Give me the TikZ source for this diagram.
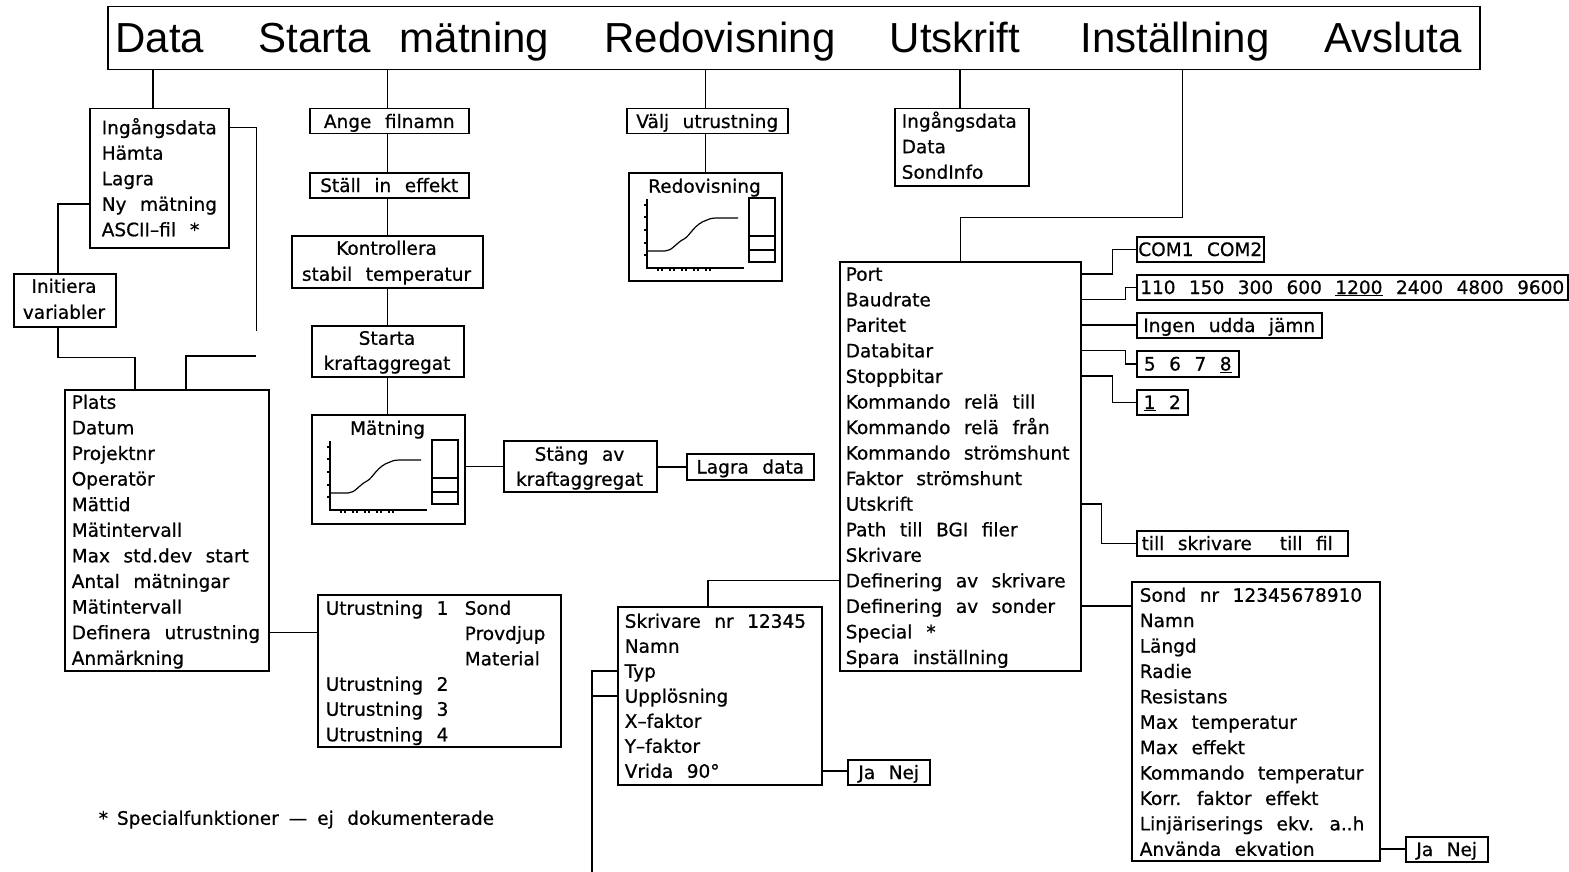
\documentclass[tikz,border=0pt]{standalone}
\usepackage{fontspec}
\setmainfont{DejaVu Sans}[WordSpace=2.3, FakeBold=0.7]
\newfontfamily\barfont{Liberation Sans}[WordSpace=2.5]
\usetikzlibrary{calc}

\tikzset{
  box/.style={draw, rectangle, inner sep=0pt, anchor=north west},
  txt/.style={inner sep=0pt, font=\fontsize{18.5}{22}\selectfont, text height=13.5pt, text depth=0pt},
  itm/.style={txt, anchor=west},
  bartxt/.style={inner sep=0pt, font=\barfont\fontsize{42}{48}\selectfont, text height=30pt, text depth=0pt},
  chart/.pic={
    \begin{scope}[line width=1.2pt]
      \draw (19,27) -- (19,96) -- (116,96);
      \foreach \yy in {33,45,58,71,83} \draw (16,\yy) -- (19,\yy);
      \foreach \xx in {30,34,42,46,54,58,66,70,78,82} \draw (\xx,96) -- (\xx,99);
      \draw (19,79) -- (37,79) .. controls (44,79) and (48,71) .. (56,67)
            .. controls (62,64) and (66,52) .. (79,48)
            .. controls (83,46) and (86,46) .. (92,46) -- (110,46);
      \draw (121,26) rectangle (147,90) (121,64) -- (147,64) (121,78) -- (147,78);
    \end{scope}
  }
}

\begin{document}
\begin{tikzpicture}[x=1pt,y=-1pt,line width=1.5pt]
\fill[white] (0,0) rectangle (1569,872);
\useasboundingbox (0,0) rectangle (1569,872);

% main menu bar
\node[box, minimum width=1372pt, minimum height=63pt] (bar) at (107,6) {};
\node[bartxt] (tb1) at (160,37.5) {Data};
\node[bartxt] (tb2) at (404,37.5) {Starta mätning};
\node[bartxt] (tb3) at (720,37.5) {Redovisning};
\node[bartxt] (tb4) at (955,37.5) {Utskrift};
\node[bartxt] (tb5) at (1175,37.5) {Inställning};
\node[bartxt] (tb6) at (1393,37.5) {Avsluta};

% Data menu
\node[box, minimum width=139pt, minimum height=139pt] (dmenu) at (89,108) {};
\foreach \t [count=\i from 0] in {Ingångsdata, Hämta, Lagra, Ny mätning, ASCII–fil\hspace{14pt}*}
  \node[itm] (dm\i) at (101,{127.5+25.5*\i}) {\t};

\node[box, minimum width=102pt, minimum height=53pt] (init) at (13,273) {};
\node[txt] (in1) at (64,286) {Initiera};
\node[txt] (in2) at (64,312) {variabler};

\node[box, minimum width=204pt, minimum height=281pt] (plats) at (64,389) {};
\foreach \t [count=\i from 0] in {Plats, Datum, Projektnr, Operatör, Mättid, Mätintervall,
    Max std.dev start, Antal mätningar, Mätintervall, Definera utrustning, Anmärkning}
  \node[itm] (pl\i) at (71,{402+25.6*\i}) {\t};

\node[box, minimum width=243pt, minimum height=152pt] (utr) at (317,594) {};
\node[itm] (ut1) at (325,608) {Utrustning 1};
\node[itm] (ut2) at (325,684) {Utrustning 2};
\node[itm] (ut3) at (325,709) {Utrustning 3};
\node[itm] (ut4) at (325,734.5) {Utrustning 4};
\node[itm] (uta) at (464,608) {Sond};
\node[itm] (utb) at (464,633.3) {Provdjup};
\node[itm] (utc) at (464,658.6) {Material};

% measurement chain
\node[box, minimum width=159pt, minimum height=25pt] (ange) at (309,108) {};
\node[txt] (ange-t) at (ange) {Ange filnamn};
\node[box, minimum width=159pt, minimum height=25pt] (stall) at (309,172) {};
\node[txt] (stall-t) at (stall) {Ställ in effekt};
\node[box, minimum width=191pt, minimum height=52pt] (kontr) at (291,235) {};
\node[txt] (ko1) at (386.5,248) {Kontrollera};
\node[txt] (ko2) at (386.5,274) {stabil temperatur};
\node[box, minimum width=152pt, minimum height=51pt] (starta) at (311,325) {};
\node[txt] (st1) at (387,338) {Starta};
\node[txt] (st2) at (387,363) {kraftaggregat};
\node[box, minimum width=153pt, minimum height=109pt] (matn) at (311,414) {};
\node[txt] (matn-t) at (387.5,428) {Mätning};
\pic at (matn.north west) {chart};
\node[box, minimum width=153pt, minimum height=51pt] (stang) at (503,440) {};
\node[txt] (sg1) at (579.5,454) {Stäng av};
\node[txt] (sg2) at (579.5,479) {kraftaggregat};
\node[box, minimum width=127pt, minimum height=26pt] (lagra) at (686,453) {};
\node[txt] (lagra-t) at (lagra) {Lagra data};

% report
\node[box, minimum width=161pt, minimum height=25pt] (valj) at (626,108) {};
\node[txt] (valj-t) at (valj) {Välj utrustning};
\node[box, minimum width=153pt, minimum height=108pt] (redov) at (628,172) {};
\node[txt] (redov-t) at (704.5,186) {Redovisning};
\pic at (redov.north west) {chart};

% print
\node[box, minimum width=134pt, minimum height=77pt] (utsk) at (894,108) {};
\foreach \t [count=\i from 0] in {Ingångsdata, Data, SondInfo}
  \node[itm] (us\i) at (901,{121+25.5*\i}) {\t};

% settings
\node[box, minimum width=241pt, minimum height=409pt] (port) at (839,261) {};
\foreach \t [count=\i from 0] in {Port, Baudrate, Paritet, Databitar, Stoppbitar,
    Kommando relä till, Kommando relä från, Kommando strömshunt, Faktor strömshunt,
    Utskrift, Path till BGI filer, Skrivare, Definering av skrivare,
    Definering av sonder, Special\hspace{14pt}*, Spara inställning}
  \node[itm] (p\i) at (845,{274+25.55*\i}) {\t};

\node[box, minimum width=127pt, minimum height=25pt] (com) at (1136,236) {};
\node[txt] (com-t) at (com) {COM1 COM2};
\node[box, minimum width=431pt, minimum height=25pt] (baud) at (1136,274) {};
\node[txt] (baud-t) at (baud) {110\hspace{13.5pt}150\hspace{13.5pt}300\hspace{13.5pt}600\hspace{13.5pt}\underline{1200}\hspace{13.5pt}2400\hspace{13.5pt}4800\hspace{13.5pt}9600};
\node[box, minimum width=185pt, minimum height=25pt] (par) at (1136,312) {};
\node[txt] (par-t) at (par) {\underline{Ingen} udda jämn};
\node[box, minimum width=102pt, minimum height=26pt] (dbit) at (1136,350) {};
\node[txt] (dbit-t) at (dbit) {5 6 7 \underline{8}};
\node[box, minimum width=51pt, minimum height=25pt] (sbit) at (1136,389) {};
\node[txt] (sbit-t) at (sbit) {\underline{1} 2};
\node[box, minimum width=211pt, minimum height=25pt] (utopt) at (1136,530) {};
\node[txt] (utopt-t) at ($(utopt)+(-5,0)$) {till skrivare\hspace{28pt}till fil};

\node[box, minimum width=248pt, minimum height=279pt] (sond) at (1131,581) {};
\foreach \t [count=\i from 0] in {Sond nr 12345678910, Namn, Längd, Radie, Resistans,
    Max temperatur, Max effekt, Kommando temperatur, Korr. faktor effekt,
    Linjäriserings ekv. a..h, Använda ekvation}
  \node[itm] (q\i) at (1139,{595+25.4*\i}) {\t};
\node[box, minimum width=82pt, minimum height=25pt] (jn2) at (1405,836) {};
\node[txt] (jn2-t) at (jn2) {Ja Nej};

\node[box, minimum width=204pt, minimum height=178pt] (skriv) at (617,606) {};
\foreach \t [count=\i from 0] in {Skrivare nr 12345, Namn, Typ, Upplösning,
    X–faktor, Y–faktor, Vrida 90°}
  \node[itm] (s\i) at (624,{621+25*\i}) {\t};
\node[box, minimum width=82pt, minimum height=25pt] (jn1) at (847,759) {};
\node[txt] (jn1-t) at (jn1) {Ja Nej};

% footnote
\node[itm] (foot) at (98,818) {*\hspace{9pt}Specialfunktioner\hspace{10pt}—\hspace{10pt}ej dokumenterade};

% ---- connectors ----
\coordinate (d0) at ($(dmenu.north)+(-6.5,0)$);
\draw (d0) -- (d0 |- bar.south);
\draw (dm0 -| dmenu.east) -- ++(27,0) -- ++(0,203) coordinate (dangle1);
\draw ($(plats.north)+(19,0)$) -- ++(0,-33) -- ++(70,0) coordinate (dangle2);
\coordinate (ia) at ($(init.north)+(-7,0)$);
\draw (dm3 -| dmenu.west) -| (ia);
\draw (ia |- init.south) -- ++(0,30) -| ($(plats.north)+(-32,0)$);
\draw (pl9 -| plats.east) -- (pl9 -| utr.west);

\draw (bar.south -| kontr.north) -- (ange.north -| kontr.north);
\draw (ange.south -| kontr.north) -- (stall.north -| kontr.north);
\draw (stall.south -| kontr.north) -- (kontr.north);
\draw (kontr.south) -- (starta.north -| kontr.south);
\draw (starta.south -| kontr.south) -- (matn.north -| kontr.south);
\draw (matn.east |- stang) -- (stang.west);
\draw (stang.east |- lagra) -- (lagra.west);

\draw (bar.south -| redov.north) -- (valj.north -| redov.north);
\draw (valj.south -| redov.north) -- (redov.north);

\coordinate (u0) at ($(utsk.north)+(-2,0)$);
\draw (u0) -- (u0 |- bar.south);
\draw (port.north) -- ++(0,-43.5) -| ($(bar.south)+(388.5,0)$);

\draw (p0 -| port.east) -- ++(31,0) |- (com.west);
\draw (p1 -| port.east) -- ++(44,0) |- (baud.west);
\draw (p2 -| port.east) -- (p2 -| par.west);
\draw (p3 -| port.east) -- ++(44,0) |- (dbit.west);
\draw (p4 -| port.east) -- ++(31,0) |- (sbit.west);
\draw (p9 -| port.east) -- ++(20,0) |- (utopt.west);
\draw (p13 -| port.east) -- (p13 -| sond.west);
\draw (p12 -| port.west) -| ($(skriv.north)+(-12,0)$);

\draw (s3 -| skriv.west) -- ++(-25,0) coordinate (sk3);
\draw (s2 -| skriv.west) -- ++(-25,0) -- ++(0,202) coordinate (skend);
\draw (s6 -| skriv.east) -- (s6 -| jn1.west);
\draw (q10 -| sond.east) -- (q10 -| jn2.west);
\end{tikzpicture}
\end{document}
